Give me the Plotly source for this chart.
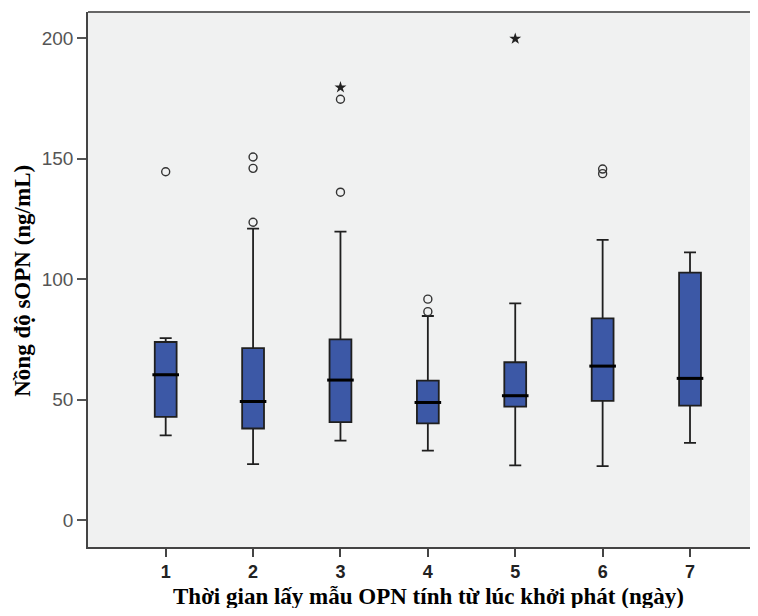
import plotly.graph_objects as go

# ---- data ----
days = [1, 2, 3, 4, 5, 6, 7]
tick_labels = ["1", "2", "3", "4", "5", "6", "7"]
lower_whisker = [35.1, 23.2, 33.0, 28.8, 22.7, 22.4, 32.0]
q1_vals = [42.8, 38.0, 40.6, 40.1, 47.1, 49.5, 47.5]
median_vals = [60.3, 49.2, 58.1, 48.8, 51.6, 63.9, 58.8]
q3_vals = [73.9, 71.4, 75.0, 57.9, 65.5, 83.7, 102.7]
upper_whisker = [75.5, 121.0, 119.7, 84.7, 89.9, 116.3, 111.1]

# outliers (circles) and extremes (stars)
outlier_day = [1, 2, 2, 2, 3, 3, 4, 4, 6, 6]
outlier_val = [144.6, 123.6, 146.0, 150.7, 136.1, 174.7, 86.5, 91.7, 143.8, 145.7]
extreme_day = [3, 5]
extreme_val = [179.6, 199.8]

y_ticks = [0, 50, 100, 150, 200]

x_title = "Thời gian lấy mẫu OPN tính từ lúc khởi phát (ngày)"
y_title = "Nồng độ sOPN (ng/mL)"

box_fill = "#3C58A6"
bg = "#F0F1F1"

fig = go.Figure()

fig.add_trace(go.Box(
    x=days,
    q1=q1_vals, median=median_vals, q3=q3_vals,
    lowerfence=lower_whisker, upperfence=upper_whisker,
    boxpoints=False,
    width=0.25,
    whiskerwidth=0.55,
    fillcolor=box_fill,
    line=dict(color="#1f1f1f", width=1.8),
    showlegend=False,
    hoverinfo="skip",
))

# thick median lines
fig.add_trace(go.Scatter(
    x=days, y=median_vals, mode="markers",
    marker=dict(symbol="line-ew", size=19, color="black",
                line=dict(color="black", width=3)),
    showlegend=False, hoverinfo="skip",
))

fig.add_trace(go.Scatter(
    x=outlier_day, y=outlier_val, mode="markers",
    marker=dict(symbol="circle-open", size=8, color="#333333",
                line=dict(color="#333333", width=1.4)),
    showlegend=False, hoverinfo="skip",
))

fig.add_trace(go.Scatter(
    x=extreme_day, y=extreme_val, mode="markers",
    marker=dict(symbol="star", size=9, color="#222222",
                line=dict(color="#222222", width=0)),
    showlegend=False, hoverinfo="skip",
))

title_font = dict(family="Liberation Serif, Times New Roman, serif",
                  size=23, color="black", weight="bold")

# the page body has an 8px default margin, so the figure is sized to fit
fig.update_layout(
    width=750, height=600,
    margin=dict(l=80, r=0, t=4, b=61, autoexpand=False),
    paper_bgcolor="white",
    plot_bgcolor=bg,
    font=dict(family="Liberation Sans, Arial, sans-serif", color="#333333"),
    annotations=[
        dict(text=x_title, xref="paper", yref="paper",
             x=0.508, y=-0.093, xanchor="center", yanchor="middle",
             showarrow=False, font=title_font),
        dict(text=y_title, xref="paper", yref="paper",
             x=-0.099, y=0.497, xanchor="center", yanchor="middle",
             textangle=-90, showarrow=False, font=title_font),
    ],
    shapes=[
        dict(type="line", xref="paper", yref="paper", x0=0, x1=1, y0=1, y1=1,
             line=dict(color="#666666", width=2)),
    ],
)

fig.update_xaxes(
    range=[0.111, 7.778], automargin=False,
    tickmode="array", tickvals=days, ticktext=tick_labels,
    tickfont=dict(family="Liberation Sans, Arial, sans-serif", size=18,
                  color="#222222", weight="bold"),
    ticks="outside", ticklen=8, tickwidth=1.5, tickcolor="#444444",
    showline=True, linecolor="#444444", linewidth=1.5, mirror=False,
    showgrid=False, zeroline=False,
)

fig.update_yaxes(
    range=[-11.2, 210.9], automargin=False,
    tickmode="array", tickvals=y_ticks,
    tickfont=dict(family="Liberation Sans, Arial, sans-serif", size=19,
                  color="#555555"),
    ticks="outside", ticklen=9, tickwidth=1.5, tickcolor="#555555",
    showline=True, linecolor="#444444", linewidth=1.5, mirror=False,
    showgrid=False, zeroline=False,
)

fig.write_html("out.html")
